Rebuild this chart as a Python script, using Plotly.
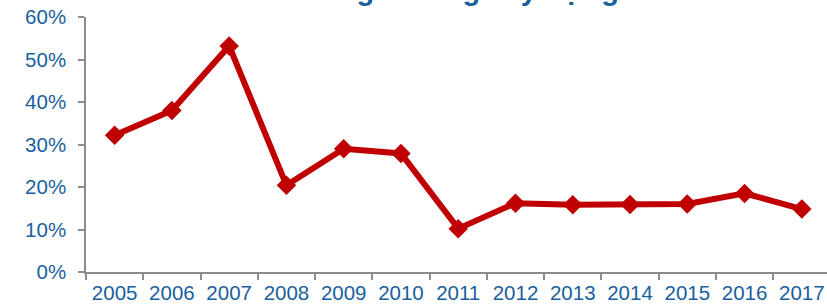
import plotly.graph_objects as go

years = ["2005", "2006", "2007", "2008", "2009", "2010", "2011",
         "2012", "2013", "2014", "2015", "2016", "2017"]
growth = [0.322, 0.380, 0.532, 0.204, 0.290, 0.279, 0.102,
          0.162, 0.158, 0.159, 0.160, 0.185, 0.148]
y_ticks = [0, 0.1, 0.2, 0.3, 0.4, 0.5, 0.6]
title_text = "Tăng trưởng xây dựng"

BLUE = "#1a5f9e"
RED = "#c00000"
GRAY = "#8c8c8c"

fig = go.Figure()
fig.add_trace(go.Scatter(
    x=years, y=growth, mode="lines+markers",
    line=dict(color=RED, width=6),
    marker=dict(symbol="diamond", size=15, color=RED),
    showlegend=False, cliponaxis=False,
))

fig.update_layout(
    width=827, height=305,
    margin=dict(l=86, r=0, t=17, b=33, autoexpand=False),
    paper_bgcolor="white", plot_bgcolor="white",
    font=dict(family="Arial, Liberation Sans, sans-serif", color=BLUE, size=20.5),
    xaxis=dict(
        type="category", range=[-0.5, 12.44], automargin=False,
        tickson="boundaries", ticks="outside", ticklen=6, tickcolor=GRAY, tickwidth=1.5,
        showline=True, linecolor=GRAY, linewidth=1.5,
        showgrid=False, zeroline=False,
        tickfont=dict(size=20.5, color=BLUE), ticklabelstandoff=2,
    ),
    yaxis=dict(
        range=[0, 0.6], tickvals=y_ticks, tickformat=".0%", automargin=False,
        ticks="outside", ticklen=6, tickcolor=GRAY, tickwidth=1.5,
        showline=True, linecolor=GRAY, linewidth=1.5,
        showgrid=False, zeroline=False,
        tickfont=dict(size=20.5, color=BLUE), ticklabelstandoff=8,
    ),
    annotations=[dict(
        text="<b>" + title_text + "</b>", xref="paper", yref="paper",
        x=0.507, y=1.106, xanchor="center", yanchor="middle",
        showarrow=False, font=dict(size=29, color=BLUE),
    )],
)

fig.write_html("out.html", config={"displayModeBar": False},
               post_script="document.body.style.margin='0';")
